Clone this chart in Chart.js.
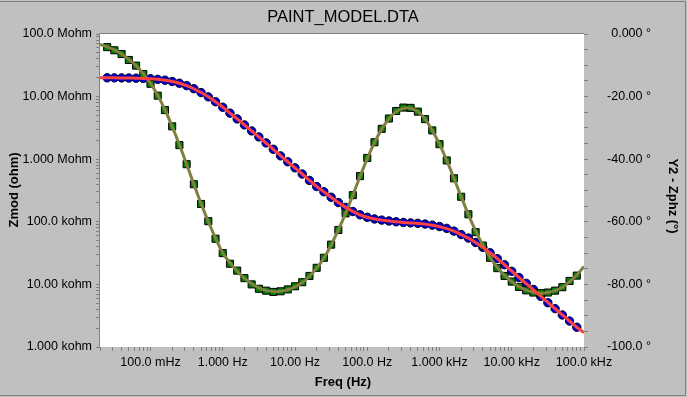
<!DOCTYPE html>
<html><head><meta charset="utf-8">
<script src="https://cdn.jsdelivr.net/npm/chart.js@4.4.0/dist/chart.umd.min.js"></script>
<style>html,body{margin:0;padding:0;background:#c0c0c0;overflow:hidden}</style>
</head><body>
<canvas id="c" width="687" height="397"></canvas>
<script>
// ---- data ----
const freqHz = [0.02512,0.03162,0.03981,0.05012,0.0631,0.07943,0.1,0.1259,0.1585,0.1995,0.2512,0.3162,0.3981,0.5012,0.631,0.7943,
 1,1.259,1.585,1.995,2.512,3.162,3.981,5.012,6.31,7.943,
 10,12.59,15.85,19.95,25.12,31.62,39.81,50.12,63.1,79.43,
 100,125.9,158.5,199.5,251.2,316.2,398.1,501.2,631,794.3,
 1000,1259,1585,1995,2512,3162,3981,5012,6310,7943,
 10000,12590,15850,19950,25120,31620,39810,50120,63100,79430];
const zmodOhm = [1.995e7,1.992e7,1.988e7,1.981e7,1.969e7,1.952e7,1.926e7,1.886e7,1.828e7,1.746e7,1.635e7,1.497e7,1.335e7,1.160e7,9.90e6,8.28e6,
 6.76e6,5.44e6,4.40e6,3.53e6,2.83e6,2.27e6,1.82e6,1.44e6,1.13e6,9.10e5,
 7.28e5,5.80e5,4.58e5,3.66e5,3.02e5,2.47e5,2.03e5,1.70e5,1.46e5,1.295e5,
 1.18e5,1.11e5,1.065e5,1.03e5,1.00e5,9.75e4,9.60e4,9.45e4,9.20e4,8.85e4,
 8.40e4,7.85e4,7.10e4,6.25e4,5.50e4,4.68e4,3.90e4,3.20e4,2.58e4,2.06e4,
 1.62e4,1.29e4,1.04e4,8.30e3,6.45e3,5.10e3,4.10e3,3.25e3,2.60e3,2.07e3];
const phaseDeg = [-4.2,-5.2,-6.4,-8.3,-10.1,-12.8,-15.9,-19.7,-24.3,-29.5,-35.5,-41.6,-48.0,-54.3,-59.8,-65.4,
 -70.0,-73.4,-75.6,-78.0,-80.0,-81.4,-82.0,-82.4,-82.2,-81.6,
 -80.6,-79.3,-77.3,-74.7,-71.5,-67.3,-62.6,-57.3,-51.5,-45.4,
 -39.6,-34.6,-30.3,-27.0,-24.6,-23.5,-23.6,-24.8,-27.2,-30.8,
 -35.2,-40.4,-46.1,-52.0,-57.6,-63.3,-67.6,-71.5,-74.8,-77.3,
 -79.1,-80.8,-81.9,-82.6,-82.8,-82.6,-82.0,-80.9,-78.9,-77.2];
const fitFreqHz = [0.02,0.02512,0.03162,0.03981,0.05012,0.0631,0.07943,0.1,0.1259,0.1585,0.1995,0.2512,0.3162,0.3981,0.5012,0.631,0.7943,
 1,1.259,1.585,1.995,2.512,3.162,3.981,5.012,6.31,7.943,
 10,12.59,15.85,19.95,25.12,31.62,39.81,50.12,63.1,79.43,
 100,125.9,158.5,199.5,251.2,316.2,398.1,501.2,631,794.3,
 1000,1259,1585,1995,2512,3162,3981,5012,6310,7943,
 10000,12590,15850,19950,25120,31620,39810,50120,63100,79430,100000];
const fitZmodOhm = [1.997e7,1.995e7,1.992e7,1.988e7,1.981e7,1.969e7,1.952e7,1.926e7,1.886e7,1.828e7,1.746e7,1.635e7,1.497e7,1.335e7,1.162e7,9.92e6,8.30e6,
 6.78e6,5.46e6,4.40e6,3.53e6,2.83e6,2.27e6,1.81e6,1.44e6,1.14e6,9.10e5,
 7.26e5,5.80e5,4.60e5,3.68e5,3.01e5,2.46e5,2.03e5,1.70e5,1.465e5,1.295e5,
 1.18e5,1.11e5,1.063e5,1.03e5,1.00e5,9.78e4,9.60e4,9.43e4,9.18e4,8.82e4,
 8.38e4,7.80e4,7.08e4,6.25e4,5.48e4,4.66e4,3.90e4,3.20e4,2.58e4,2.06e4,
 1.63e4,1.29e4,1.03e4,8.20e3,6.50e3,5.15e3,4.10e3,3.26e3,2.60e3,2.07e3,1.69e3];
const fitPhaseDeg = [-3.3,-4.1,-5.1,-6.4,-8.1,-10.1,-12.7,-15.8,-19.6,-24.2,-29.5,-35.4,-41.6,-48.0,-54.2,-59.9,-65.2,
 -70.0,-73.1,-75.8,-78.0,-79.8,-81.1,-81.9,-82.3,-82.2,-81.7,
 -80.8,-79.4,-77.4,-74.8,-71.6,-67.4,-62.6,-57.3,-51.5,-45.5,
 -39.8,-34.7,-30.4,-27.1,-24.8,-23.7,-23.7,-24.8,-27.2,-30.8,
 -35.2,-40.4,-46.1,-52.0,-57.7,-62.9,-67.5,-71.4,-74.6,-77.1,
 -79.1,-80.7,-81.8,-82.5,-82.8,-82.6,-82.0,-80.9,-79.2,-77.0,-74.3];

// ---- tick labels ----
const xLabelValues = [0.1,1,10,100,1000,10000,100000];
const xLabelTexts = ["100.0 mHz","1.000 Hz","10.00 Hz","100.0 Hz","1.000 kHz","10.00 kHz","100.0 kHz"];
const yLabelValues = [1e3,1e4,1e5,1e6,1e7,1e8];
const yLabelTexts = ["1.000 kohm","10.00 kohm","100.0 kohm","1.000 Mohm","10.00 Mohm","100.0 Mohm"];
const y2LabelValues = [0,-20,-40,-60,-80,-100];
const y2LabelTexts = ["0.000 \u00b0","-20.00 \u00b0","-40.00 \u00b0","-60.00 \u00b0","-80.00 \u00b0","-100.0 \u00b0"];

const chartTitle = "PAINT_MODEL.DTA";
const xTitle = "Freq (Hz)";
const yTitle = "Zmod (ohm)";
const y2Title = "Y2 - Zphz (\u00b0)";

function pts(xs, ys){ return xs.map((x,i)=>({x:x,y:ys[i]})); }
function findLabel(vals, texts, v){
  for (let i=0;i<vals.length;i++){ if (Math.abs(Math.log10(vals[i]) - Math.log10(v)) < 1e-6) return texts[i]; }
  return '';
}
function logTicks(scale){
  const min = scale.min, max = scale.max, t = [];
  for (let e=-3; e<=9; e++) for (let m=1; m<=9; m++){
    const v = m*Math.pow(10,e);
    if (v >= min*0.9999 && v <= max*1.0001) t.push({value:v});
  }
  scale.ticks = t;
}

const tickFont = {family:"'Liberation Sans', Arial, sans-serif", size:12.5};
const grey = '#808080';

const framePlugin = {
  id:'frame',
  beforeDraw(chart){
    const {ctx, chartArea:a} = chart;
    ctx.save();
    ctx.fillStyle = '#c0c0c0';
    ctx.fillRect(0,0,chart.width,chart.height);
    ctx.fillStyle = '#ffffff';
    ctx.fillRect(a.left,a.top,a.right-a.left,a.bottom-a.top);
    ctx.restore();
  },
  afterDraw(chart){
    const {ctx, chartArea:a} = chart;
    ctx.save();
    ctx.strokeStyle = grey; ctx.lineWidth = 1;
    ctx.beginPath();
    ctx.moveTo(a.left-0.5, a.bottom); ctx.lineTo(a.left-0.5, a.top-0.5); ctx.lineTo(a.right, a.top-0.5);
    ctx.stroke();
    ctx.beginPath();
    ctx.moveTo(0, 1.5); ctx.lineTo(685.5, 1.5); ctx.lineTo(685.5, 395.5); ctx.lineTo(0, 395.5);
    ctx.stroke();
    ctx.fillStyle = '#000';
    ctx.textAlign = 'center'; ctx.textBaseline = 'middle';
    ctx.font = "16.5px 'Liberation Sans', Arial, sans-serif";
    ctx.fillText(chartTitle, 343, 17);
    ctx.font = "bold 13px 'Liberation Sans', Arial, sans-serif";
    ctx.fillText(xTitle, 343, 382);
    ctx.save(); ctx.translate(14, 190); ctx.rotate(-Math.PI/2); ctx.fillText(yTitle, 0, 0); ctx.restore();
    ctx.save(); ctx.translate(673, 196); ctx.rotate(Math.PI/2); ctx.fillText(y2Title, 0, 0); ctx.restore();
    ctx.restore();
  }
};

new Chart(document.getElementById('c'), {
  type:'scatter',
  data:{ datasets:[
    {label:'Zmod fit', data:pts(fitFreqHz, fitZmodOhm), yAxisID:'y', showLine:true, borderColor:'#ff4040', borderWidth:3, pointRadius:0, tension:0.3, order:0},
    {label:'Zphz fit', data:pts(fitFreqHz, fitPhaseDeg), yAxisID:'y2', showLine:true, borderColor:'#808040', borderWidth:3, pointRadius:0, tension:0.3, order:1},
    {label:'Zphz', data:pts(freqHz, phaseDeg), yAxisID:'y2', showLine:false, pointStyle:'rect', pointRadius:5, backgroundColor:'#008000', borderColor:'#000000', borderWidth:1, order:2},
    {label:'Zmod', data:pts(freqHz, zmodOhm), yAxisID:'y', showLine:false, pointStyle:'circle', pointRadius:4.2, backgroundColor:'#0000d0', borderColor:'#000030', borderWidth:1, order:3}
  ]},
  options:{
    responsive:false, animation:false, devicePixelRatio:1,
    layout:{padding:{left:0, top:34, right:36, bottom:0}},
    plugins:{legend:{display:false}, tooltip:{enabled:false}, title:{display:false}},
    scales:{
      x:{type:'logarithmic', position:'bottom', min:0.02, max:100000,
         afterBuildTicks:logTicks, afterFit(s){ s.height = 50; },
         border:{display:false},
         grid:{drawOnChartArea:false, drawTicks:true, tickLength:4, tickColor:grey, color:grey},
         ticks:{autoSkip:false, maxRotation:0, minRotation:0, padding:4, color:'#000', font:tickFont,
                callback:(v)=>findLabel(xLabelValues, xLabelTexts, v)}},
      y:{type:'logarithmic', position:'left', min:1e3, max:1e8,
         afterBuildTicks:logTicks, afterFit(s){ s.width = 100; },
         border:{display:false},
         grid:{drawOnChartArea:false, drawTicks:true, tickLength:4, tickColor:grey, color:grey},
         ticks:{autoSkip:false, padding:4, color:'#000', font:tickFont,
                callback:(v)=>findLabel(yLabelValues, yLabelTexts, v)}},
      y2:{type:'linear', position:'right', min:-100, max:0,
         afterFit(s){ s.width = 67; },
         border:{display:false},
         grid:{drawOnChartArea:false, drawTicks:true, tickLength:4, tickColor:grey, color:grey},
         ticks:{stepSize:5, autoSkip:false, padding:4, crossAlign:'far', color:'#000', font:tickFont,
                callback:(v)=>{ const i = y2LabelValues.indexOf(Math.round(v)); return (i>=0 && Math.abs(v-Math.round(v))<1e-6) ? y2LabelTexts[i] : ''; }}}
    }
  },
  plugins:[framePlugin]
});
</script>
</body></html>
